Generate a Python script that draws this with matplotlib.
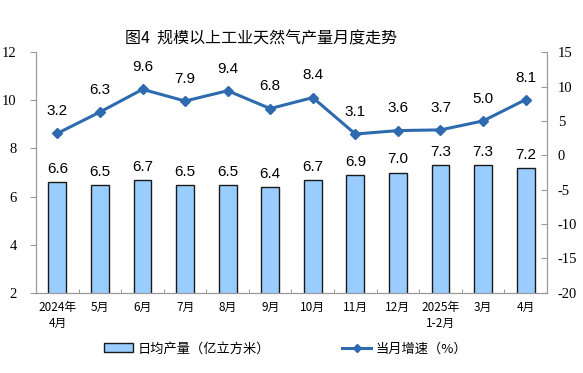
import numpy as np
import matplotlib.pyplot as plt
from matplotlib.lines import Line2D
from matplotlib.patches import Patch

plt.rcParams['font.family'] = ['Noto Sans CJK SC', 'DejaVu Sans']
plt.rcParams['axes.unicode_minus'] = False

# Data
months = ['2024年\n4月', '5月', '6月', '7月', '8月', '9月', '10月', '11月', '12月',
          '2025年\n1-2月', '3月', '4月']
daily_output = [6.6, 6.5, 6.7, 6.5, 6.5, 6.4, 6.7, 6.9, 7.0, 7.3, 7.3, 7.2]
growth = [3.2, 6.3, 9.6, 7.9, 9.4, 6.8, 8.4, 3.1, 3.6, 3.7, 5.0, 8.1]
left_ticks = [2, 4, 6, 8, 10, 12]
right_ticks = [-20, -15, -10, -5, 0, 5, 10, 15]

bar_color = '#99CCFF'
line_color = '#2E6BAE'

fig = plt.figure(figsize=(5.83, 3.73), dpi=100)
ax = fig.add_axes([0.062, 0.215, 0.876, 0.645])
ax2 = ax.twinx()

x = np.arange(len(months))
ax.bar(x, daily_output, width=0.42, color=bar_color, edgecolor='#1a1a1a', linewidth=1.0, zorder=2)
for xi, v in zip(x, daily_output):
    ax.text(xi, v + 0.25, f'{v:.1f}', ha='center', va='bottom', fontsize=11,
            family='Liberation Sans')

ax2.plot(x, growth, color=line_color, lw=2.2, marker='D', ms=5, zorder=3)
for xi, v in zip(x, growth):
    ax2.text(xi, v + 2.2, f'{v:.1f}', ha='center', va='bottom', fontsize=11,
             family='Liberation Sans')

ax.set_xlim(-0.5, len(months) - 0.5)
ax.set_ylim(2, 12)
ax.set_yticks(left_ticks)
ax.set_yticklabels([str(t) for t in left_ticks], family='Liberation Serif', fontsize=10.5)
ax2.set_ylim(-20, 15)
ax2.set_yticks(right_ticks)
ax2.set_yticklabels([str(t) for t in right_ticks], family='Liberation Serif', fontsize=10.5)

ax.set_xticks(x)
ax.set_xticklabels(months, fontsize=8.5, linespacing=1.3)
ax.set_xticks(np.arange(-0.5, len(months), 1), minor=True)
ax.tick_params(axis='x', which='major', length=0, pad=6)
ax.tick_params(axis='x', which='minor', length=3, direction='in', color='#888888')

ax.tick_params(axis='y', length=4, color='#999999', pad=10)
ax2.tick_params(axis='y', length=4, direction='in', color='#999999', pad=8)

for a in (ax, ax2):
    a.spines['top'].set_visible(False)
    for s in ('left', 'right', 'bottom'):
        a.spines[s].set_color('#999999')

fig.text(0.448, 0.895, '图4  规模以上工业天然气产量月度走势', ha='center', va='center',
         fontsize=11.5, fontweight='medium')

handles = [Patch(facecolor=bar_color, edgecolor='#1a1a1a', linewidth=1.0),
           Line2D([0], [0], color=line_color, lw=2.2, marker='D', ms=4)]
fig.legend(handles, ['日均产量（亿立方米）', '当月增速（%）'], loc='center',
           bbox_to_anchor=(0.49, 0.065), ncol=2, frameon=False, fontsize=9.5,
           columnspacing=5.5, handlelength=2.2, handletextpad=0.3)

fig.savefig('out.png', dpi=100)
